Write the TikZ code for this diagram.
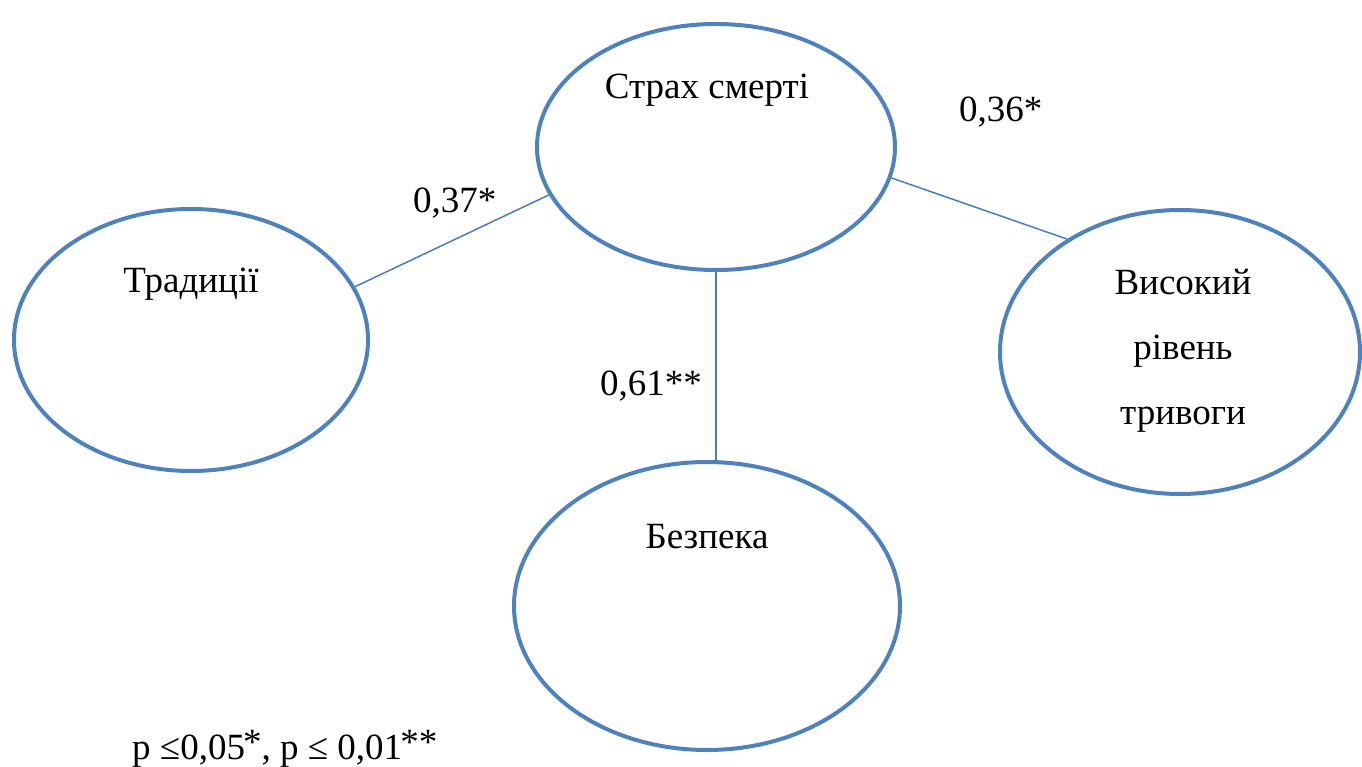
\documentclass[tikz,border=0pt]{standalone}
\usepackage{fontspec}
\setmainfont{Liberation Serif}
\usetikzlibrary{shapes.geometric}

\definecolor{ringblue}{RGB}{79,129,189}
\definecolor{linkblue}{RGB}{74,126,187}

\begin{document}
\begin{tikzpicture}[x=1pt, y=-1pt, font=\fontsize{37}{65}\selectfont]
  \tikzstyle{factor}=[ellipse, draw = ringblue, line width = 4pt, inner sep = 0pt]
  \tikzstyle{link}=[draw = linkblue, line width = 1.5pt]
  \tikzstyle{coef}=[anchor = base west, inner sep = 0pt]
  \tikzstyle{title}=[anchor = base, inner sep = 0pt, align = center]

  \useasboundingbox (0, 0) rectangle (1362, 767);

  \foreach \name/\x/\y/\w/\h in
    { strah/716/147/358/246
    , trad/191/340/354/262
    , vys/1180/352/360/284
    , bezp/707/606/386/288
    }
    \node[factor, minimum width = \w, minimum height = \h] (\name) at (\x, \y) {};

  \node[title] (strahtext) at (707, 99) {Страх смерті};
  \node[title] (tradtext) at (191, 293) {Традиції};
  \node[title] (bezptext) at (707, 548) {Безпека};
  % last line sits on the base anchor
  \node[title] (vystext) at (1183, 424) {Високий\\рівень\\тривоги};

  \draw[link] (trad.18.5) -- (strah.196);
  \draw[link] (strah.south) -- (strah.south |- bezp.north);
  \draw[link] (strah.-10.4) -- (vys.135);

  \node[coef] (c1) at (413, 213) {0,37*};
  \node[coef] (c2) at (600, 395) {0,61**};
  \node[coef] (c3) at (959, 122) {0,36*};

  \node[coef] (note) at (132, 759)
    {p ≤0,05\kern-0.05em\raisebox{0.12em}{*}, p ≤ 0,01\kern-0.05em\raisebox{0.12em}{**}};
\end{tikzpicture}
\end{document}
